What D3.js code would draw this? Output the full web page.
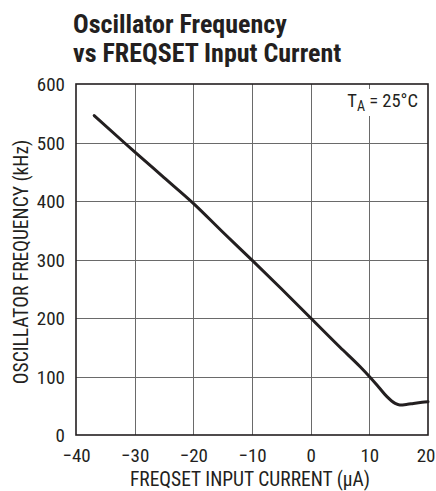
<!DOCTYPE html>
<html><head><meta charset="utf-8">
<script src="https://cdn.jsdelivr.net/npm/d3@7"></script>
<style>
body{margin:0;background:#fff;}
svg text{font-family:"Liberation Sans Narrow","Arial Narrow","Roboto Condensed","Liberation Sans",sans-serif;fill:#231f20;}
</style></head>
<body><svg id="c" width="436" height="491"></svg>
<script>
const titleLines = ["Oscillator Frequency", "vs FREQSET Input Current"];
const xTicks = [-40, -30, -20, -10, 0, 10, 20];
const yTicks = [0, 100, 200, 300, 400, 500, 600];
const xTickLabels = ["\u221240", "\u221230", "\u221220", "\u221210", "0", "10", "20"];
const xTitle = "FREQSET INPUT CURRENT (\u00b5A)";
const yTitle = "OSCILLATOR FREQUENCY (kHz)";
const current = [-36.9, -31.8, -30, -25, -20, -15, -10, -5, 0, 5, 8.4, 10, 11.5, 13, 14.4, 15.2, 16.5, 17.5, 19, 20];
const freq =    [546, 500, 484, 440, 396, 347, 299, 250, 200, 150, 117, 100, 83, 65.5, 54, 51.3, 52.5, 54, 56, 57];

const svg = d3.select("#c");
const m = {l:76, r:428, t:84, b:435};
const x = d3.scaleLinear().domain([-40, 20]).range([m.l, m.r]);
const y = d3.scaleLinear().domain([0, 600]).range([m.b, m.t]);

// title
const tt = svg.append("text").attr("font-weight","bold").attr("font-size",26);
titleLines.forEach((s,i)=>{
  tt.append("tspan").attr("x",73).attr("y",33 + i*29).text(s);
});

// gridlines
const grid = svg.append("g").attr("stroke","#6a6a6a").attr("stroke-width",1).attr("shape-rendering","crispEdges");
xTicks.slice(1,-1).forEach(v=>{
  grid.append("line").attr("x1",Math.round(x(v))+0.5).attr("x2",Math.round(x(v))+0.5).attr("y1",m.t).attr("y2",m.b);
});
yTicks.slice(1,-1).forEach(v=>{
  grid.append("line").attr("y1",Math.round(y(v))+0.5).attr("y2",Math.round(y(v))+0.5).attr("x1",m.l).attr("x2",m.r);
});

// annotation with white backing
const ann = svg.append("g");
const annText = ann.append("text").attr("x",418).attr("y",107).attr("text-anchor","end").attr("font-size",18.5);
annText.append("tspan").text("T");
annText.append("tspan").attr("dy",4).attr("font-size",14).text("A");
annText.append("tspan").attr("dy",-4).text(" = 25\u00b0C");
const bb = annText.node().getBBox();
ann.insert("rect","text").attr("x",bb.x-2).attr("y",bb.y-1).attr("width",bb.width+4).attr("height",bb.height+3).attr("fill","#fff");

// frame
svg.append("rect").attr("x",m.l).attr("y",m.t).attr("width",m.r-m.l).attr("height",m.b-m.t)
  .attr("fill","none").attr("stroke","#231f20").attr("stroke-width",1.6);

// curve
const pts = current.map((c,i)=>[c,freq[i]]);
svg.append("path").datum(pts)
  .attr("d", d3.line().x(d=>x(d[0])).y(d=>y(d[1])).curve(d3.curveMonotoneX))
  .attr("fill","none").attr("stroke","#231f20").attr("stroke-width",3).attr("stroke-linejoin","round").attr("stroke-linecap","round");

// axes
const xAxis = d3.axisBottom(x).tickValues(xTicks).tickSize(0).tickPadding(0).tickFormat((d,i)=>xTickLabels[i]);
const gx = svg.append("g").attr("transform",`translate(0,${m.b})`).call(xAxis);
gx.select(".domain").remove();
gx.selectAll("text").attr("font-size",19).attr("dy",null).attr("y",27).attr("fill",null);
// keep the last label inside the picture
gx.selectAll("text").filter(d=>d===20).attr("text-anchor","end").attr("x",435 - m.r);
gx.attr("font-family",null).attr("font-size",null);

const yAxis = d3.axisLeft(y).tickValues(yTicks).tickSize(0).tickPadding(0);
const gy = svg.append("g").attr("transform",`translate(${m.l},0)`).call(yAxis);
gy.select(".domain").remove();
gy.selectAll("text").attr("font-size",19).attr("x",-11).attr("dy","0.36em").attr("fill",null);
gy.attr("font-family",null).attr("font-size",null);

// axis titles
svg.append("text").attr("x",250).attr("y",486).attr("text-anchor","middle").attr("font-size",19.5).text(xTitle);
svg.append("text").attr("transform","translate(28,262) rotate(-90)").attr("text-anchor","middle").attr("font-size",19.5).text(yTitle);
</script></body></html>
